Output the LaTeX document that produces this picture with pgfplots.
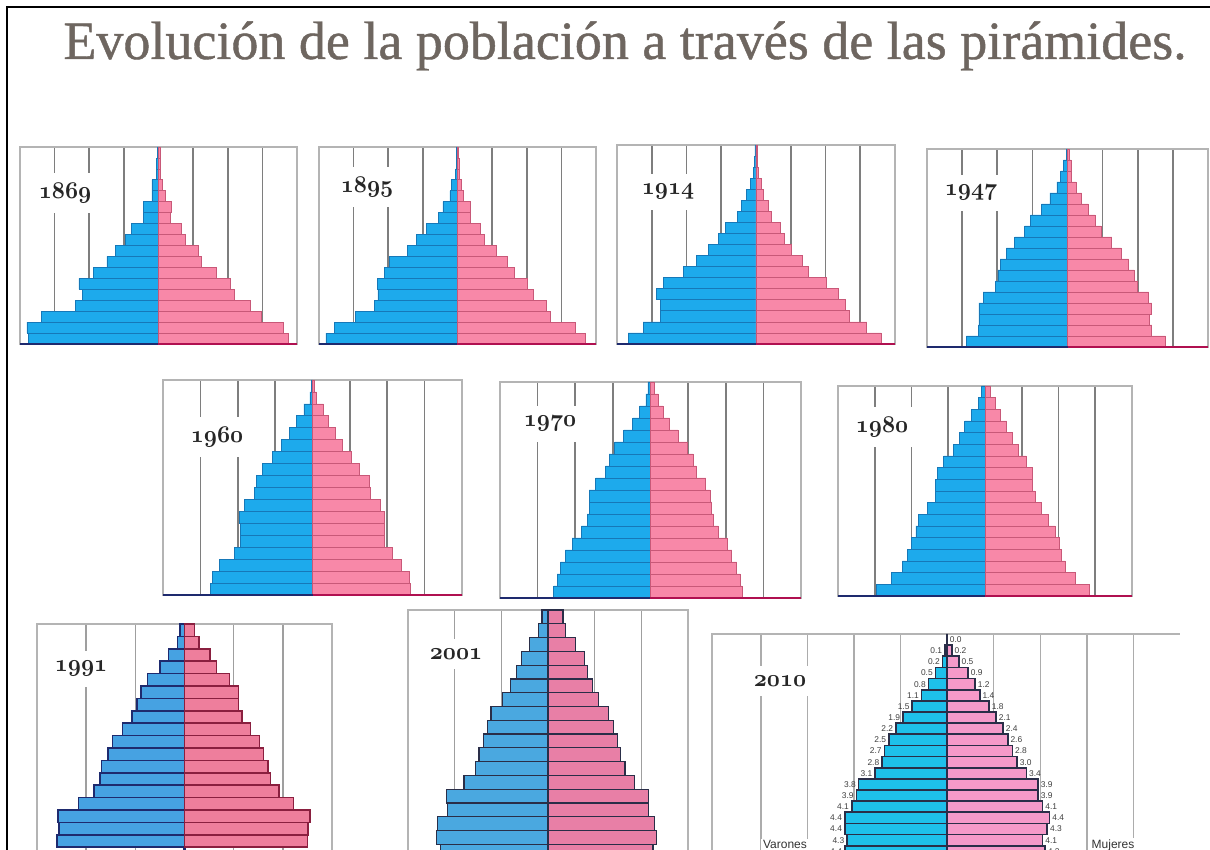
\documentclass[border=0pt]{standalone}
\usepackage{pgfplots}
\usepackage{pgfplotstable}
\pgfplotsset{compat=1.18}
\usepackage{fontspec}
\setmainfont{Liberation Serif}
\newfontfamily\lsans{Liberation Sans}
\newfontfamily\titlefont{Liberation Serif}[FakeBold=0.8]

\definecolor{tblue}{HTML}{1DAAEC}
\definecolor{tblueE}{HTML}{1678B8}
\definecolor{tpink}{HTML}{F888A8}
\definecolor{tpinkE}{HTML}{C85878}
\definecolor{gridc}{HTML}{7E7E7E}
\definecolor{boxc}{HTML}{B4B4B4}
\definecolor{cbrown}{HTML}{7A6A52}
\definecolor{navy}{HTML}{1E2A6E}
\definecolor{crim}{HTML}{B01050}
\definecolor{titlec}{HTML}{6E6660}
\definecolor{bblue}{HTML}{46A2E2}
\definecolor{bpink}{HTML}{EE7E9C}
\definecolor{bpinkE}{HTML}{8A1F3F}
\definecolor{cblue}{HTML}{4AA8E0}
\definecolor{cpink}{HTML}{E87FA6}
\definecolor{dedge}{HTML}{2A2E48}
\definecolor{dblue}{HTML}{1EC0EA}
\definecolor{dpink}{HTML}{F59AC9}

\newcommand{\yr}[1]{{\fontsize{13}{13}\usefont{OML}{cmm}{b}{it}#1}}

\pgfplotsset{
  pyr/.style={
    scale only axis, anchor=north west, clip=false,
    xbar, bar shift=0pt, bar width=1,
    xmin=-4, xmax=4, ymin=-0.5, ymax=17.5,
    axis line style={draw=boxc, line width=0.6pt},
    xtick={-3,-2,-1,1,2,3}, xticklabels={}, ytick=\empty,
    xmajorgrids, grid style={draw=gridc, line width=0.8pt},
    major tick length=0pt,
    extra x ticks={0}, extra x tick labels={},
    extra x tick style={grid style={draw=cbrown, line width=1.1pt}},
  },
  mbar/.style={fill=tblue, draw=tblueE, line width=0.35pt},
  fbar/.style={fill=tpink, draw=tpinkE, line width=0.35pt},
}

% ---------------- data (a = age group, 0 = 0-4 at bottom) ----------------
\pgfplotstableread{
a m f
0 3.75 3.75
1 3.80 3.60
2 3.38 2.98
3 2.40 2.64
4 2.20 2.20
5 2.30 2.07
6 1.87 1.68
7 1.49 1.25
8 1.25 1.15
9 0.96 0.77
10 0.77 0.67
11 0.43 0.34
12 0.43 0.36
13 0.19 0.19
14 0.19 0.12
15 0.06 0.06
16 0.05 0.05
17 0.04 0.04
}\tA
\pgfplotstableread{
a m f
0 3.80 3.69
1 3.56 3.40
2 2.96 2.68
3 2.40 2.56
4 2.30 2.19
5 2.32 2.03
6 2.10 1.64
7 1.96 1.45
8 1.45 1.13
9 1.19 0.79
10 0.90 0.67
11 0.54 0.36
12 0.42 0.36
13 0.22 0.16
14 0.17 0.12
15 0.06 0.05
16 0.04 0.04
17 0.03 0.03
}\tB
\pgfplotstableread{
a m f
0 3.68 3.60
1 3.25 3.19
2 2.74 2.68
3 2.74 2.57
4 2.87 2.38
5 2.67 2.02
6 2.10 1.51
7 1.71 1.32
8 1.38 1.03
9 1.07 0.82
10 0.89 0.69
11 0.53 0.43
12 0.43 0.36
13 0.27 0.21
14 0.17 0.16
15 0.08 0.07
16 0.05 0.04
17 0.03 0.03
}\tC
\pgfplotstableread{
a m f
0 2.88 2.79
1 2.54 2.40
2 2.52 2.33
3 2.52 2.40
4 2.40 2.31
5 2.05 2.00
6 1.98 1.90
7 1.92 1.74
8 1.74 1.52
9 1.50 1.26
10 1.22 0.95
11 1.05 0.78
12 0.74 0.59
13 0.50 0.40
14 0.30 0.24
15 0.19 0.12
16 0.12 0.10
17 0.04 0.04
}\tD
\pgfplotstableread{
a m f
0 2.73 2.63
1 2.67 2.59
2 2.50 2.38
3 2.10 2.14
4 1.92 1.93
5 1.92 1.91
6 1.96 1.91
7 1.83 1.82
8 1.56 1.55
9 1.51 1.52
10 1.33 1.26
11 1.08 1.03
12 0.84 0.81
13 0.61 0.60
14 0.43 0.42
15 0.23 0.29
16 0.07 0.11
17 0.04 0.05
}\tE
\pgfplotstableread{
a m f
0 2.57 2.43
1 2.48 2.38
2 2.39 2.29
3 2.26 2.16
4 2.08 2.03
5 1.84 1.80
6 1.68 1.67
7 1.63 1.63
8 1.63 1.58
9 1.46 1.47
10 1.19 1.22
11 1.10 1.13
12 0.95 0.98
13 0.71 0.73
14 0.47 0.51
15 0.29 0.33
16 0.12 0.20
17 0.07 0.09
}\tF
\pgfplotstableread{
a m f
0 2.95 2.85
1 2.55 2.45
2 2.25 2.18
3 2.12 2.09
4 2.00 2.03
5 1.88 1.91
6 1.82 1.73
7 1.56 1.52
8 1.36 1.36
9 1.34 1.30
10 1.30 1.30
11 1.12 1.12
12 0.85 0.91
13 0.70 0.75
14 0.55 0.59
15 0.36 0.43
16 0.18 0.27
17 0.09 0.14
}\tG
\pgfplotstableread{
a m f
0 2.59 2.50
1 2.55 2.51
2 2.57 2.55
3 2.16 2.22
4 1.84 1.92
5 1.72 1.75
6 1.69 1.70
7 1.56 1.61
8 1.46 1.53
9 1.26 1.34
10 1.07 1.17
11 0.97 1.10
12 0.88 1.10
13 0.75 0.92
14 0.50 0.65
15 0.33 0.52
16 0.14 0.29
17 0.09 0.20
}\tH
\pgfplotstableread{
a m f
0 2.31 2.25
1 2.39 2.32
2 2.36 2.29
3 2.15 2.15
4 2.17 2.16
5 1.80 1.86
6 1.56 1.65
7 1.48 1.55
8 1.39 1.49
9 1.30 1.40
10 1.22 1.30
11 0.97 1.08
12 0.80 0.95
13 0.68 0.84
14 0.57 0.79
15 0.39 0.59
16 0.20 0.38
17 0.13 0.32
}\tI
\pgfplotstableread{
a m
1 4.4
2 4.3
3 4.4
4 4.4
5 4.1
6 3.9
7 3.8
8 3.1
9 2.8
10 2.7
11 2.5
12 2.2
13 1.9
14 1.5
15 1.1
16 0.8
17 0.5
18 0.2
19 0.1
}\tJm
\pgfplotstableread{
a f
1 4.2
2 4.1
3 4.3
4 4.4
5 4.1
6 3.9
7 3.9
8 3.4
9 3.0
10 2.8
11 2.6
12 2.4
13 2.1
14 1.8
15 1.4
16 1.2
17 0.9
18 0.5
19 0.2
20 0.0
}\tJf

\begin{document}
\begin{tikzpicture}[x=0.5pt,y=0.5pt]
\useasboundingbox (0,0) rectangle (1210,850);
\clip (0,0) rectangle (1210,850);
\fill[white] (0,0) rectangle (1210,850);
\draw[black, line width=1.1pt] (7,-10) -- (7,843) -- (1230,843);

\node[anchor=base, text=titlec, font=\titlefont\fontsize{27}{27}\selectfont] at (625,791)
  {Evolución de la población a través de las pirámides.};

% ---------- row 1 ----------
\begin{axis}[pyr, at={(10pt,351.5pt)}, width=138.5pt, height=98.5pt]
\addplot[mbar] table[x expr=-\thisrow{m}, y=a] {\tA};
\addplot[fbar] table[x=f, y=a] {\tA};
\addplot[sharp plot, draw=navy, line width=1.2pt, forget plot] coordinates {(-4,-0.5) (0,-0.5)};
\addplot[sharp plot, draw=crim, line width=1.2pt, forget plot] coordinates {(0,-0.5) (4,-0.5)};
\end{axis}
\begin{axis}[pyr, at={(159.5pt,351.5pt)}, width=138.5pt, height=98.5pt]
\addplot[mbar] table[x expr=-\thisrow{m}, y=a] {\tB};
\addplot[fbar] table[x=f, y=a] {\tB};
\addplot[sharp plot, draw=navy, line width=1.2pt, forget plot] coordinates {(-4,-0.5) (0,-0.5)};
\addplot[sharp plot, draw=crim, line width=1.2pt, forget plot] coordinates {(0,-0.5) (4,-0.5)};
\end{axis}
\begin{axis}[pyr, at={(308.5pt,352.5pt)}, width=139pt, height=99.5pt]
\addplot[mbar] table[x expr=-\thisrow{m}, y=a] {\tC};
\addplot[fbar] table[x=f, y=a] {\tC};
\addplot[sharp plot, draw=navy, line width=1.2pt, forget plot] coordinates {(-4,-0.5) (0,-0.5)};
\addplot[sharp plot, draw=crim, line width=1.2pt, forget plot] coordinates {(0,-0.5) (4,-0.5)};
\end{axis}
\begin{axis}[pyr, at={(463.5pt,350.5pt)}, width=140.5pt, height=99pt,
  extra x tick style={grid style={draw=gray!70!green!60!black, line width=1.1pt}}]
\addplot[mbar] table[x expr=-\thisrow{m}, y=a] {\tD};
\addplot[fbar] table[x=f, y=a] {\tD};
\addplot[sharp plot, draw=navy, line width=1.2pt, forget plot] coordinates {(-4,-0.5) (0,-0.5)};
\addplot[sharp plot, draw=crim, line width=1.2pt, forget plot] coordinates {(0,-0.5) (4,-0.5)};
\end{axis}

% ---------- row 2 ----------
\begin{axis}[pyr, at={(81.5pt,235pt)}, width=149.5pt, height=107.5pt]
\addplot[mbar] table[x expr=-\thisrow{m}, y=a] {\tE};
\addplot[fbar] table[x=f, y=a] {\tE};
\addplot[sharp plot, draw=navy, line width=1.2pt, forget plot] coordinates {(-4,-0.5) (0,-0.5)};
\addplot[sharp plot, draw=crim, line width=1.2pt, forget plot] coordinates {(0,-0.5) (4,-0.5)};
\end{axis}
\begin{axis}[pyr, at={(250pt,234pt)}, width=150.5pt, height=108pt]
\addplot[mbar] table[x expr=-\thisrow{m}, y=a] {\tF};
\addplot[fbar] table[x=f, y=a] {\tF};
\addplot[sharp plot, draw=navy, line width=1.2pt, forget plot] coordinates {(-4,-0.5) (0,-0.5)};
\addplot[sharp plot, draw=crim, line width=1.2pt, forget plot] coordinates {(0,-0.5) (4,-0.5)};
\end{axis}
\begin{axis}[pyr, at={(419pt,232pt)}, width=147pt, height=105pt]
\addplot[mbar] table[x expr=-\thisrow{m}, y=a] {\tG};
\addplot[fbar] table[x=f, y=a] {\tG};
\addplot[sharp plot, draw=navy, line width=1.2pt, forget plot] coordinates {(-4,-0.5) (0,-0.5)};
\addplot[sharp plot, draw=crim, line width=1.2pt, forget plot] coordinates {(0,-0.5) (4,-0.5)};
\end{axis}

% ---------- row 3 ----------
\begin{axis}[pyr, at={(18.5pt,113pt)}, width=147.5pt, height=124pt,
  xmin=-3, xmax=3, ymin=-2.5, ymax=17.5, xtick={-2,-1,1,2},
  grid style={draw=gray!75, line width=0.8pt},
  extra x tick style={grid style={draw=navy, line width=1.1pt}}]
\addplot[fill=bblue, draw=navy, line width=0.75pt] table[x expr=-\thisrow{m}, y=a] {\tH};
\addplot[fill=bpink, draw=bpinkE, line width=0.75pt] table[x=f, y=a] {\tH};
\end{axis}
\begin{axis}[pyr, at={(204pt,120pt)}, width=140pt, height=131pt,
  xmin=-3, xmax=3, ymin=-1.5, ymax=17.5, xtick={-2,-1,1,2},
  grid style={draw=gray!75, line width=0.8pt},
  extra x tick style={grid style={draw=dedge, line width=1pt}}]
\addplot[fill=cblue, draw=dedge, line width=0.6pt] table[x expr=-\thisrow{m}, y=a] {\tI};
\addplot[fill=cpink, draw=dedge, line width=0.6pt] table[x=f, y=a] {\tI};
\end{axis}
\begin{axis}[pyr, at={(356pt,108pt)}, width=234pt, height=117pt,
  xmin=-10.1, xmax=10, ymin=-0.5, ymax=20.5, xtick={-8,-6,-4,-2,2,4,6,8},
  axis line style={draw=none},
  grid style={draw=gray!65, line width=0.7pt},
  extra x tick style={grid style={draw=dedge, line width=1pt}},
  nodes near coords={\pgfmathprintnumber[fixed,fixed zerofill,precision=1,assume math mode=true]{\pgfplotspointmeta}},
  every node near coord/.append style={font=\lsans\fontsize{4.2}{4.2}\selectfont, text=black!75, inner sep=1pt}]
\draw[boxc, line width=0.6pt] (rel axis cs:0,0) -- (rel axis cs:0,1) -- (rel axis cs:1,1);
\addplot[fill=dblue, draw=dedge, line width=0.8pt, point meta=explicit,
  every node near coord/.append style={anchor=east}] table[x expr=-\thisrow{m}, y=a, meta=m] {\tJm};
\addplot[fill=dpink, draw=dedge, line width=0.8pt, point meta=explicit,
  every node near coord/.append style={anchor=west}] table[x=f, y=a, meta=f] {\tJf};
\end{axis}
\node[fill=white, inner sep=1pt, anchor=base, font=\lsans\fontsize{6}{6}\selectfont, text=black!80] at (785,1) {Varones};
\node[fill=white, inner sep=1pt, anchor=base, font=\lsans\fontsize{6}{6}\selectfont, text=black!80] at (1113,1) {Mujeres};

% ---------- year labels ----------
\foreach \px/\py/\t in {65/193/1869, 367/187/1895, 668/192/1914, 971/193/1947,
                        217/437/1960, 550/424/1970, 882/427/1980,
                        81/669/1991, 456/654/2001, 780/681/2010}{
  \node[fill=white, inner xsep=3pt, inner ysep=5pt, xscale=0.95, text=black!85] at (\px,{850-\py}) {\yr{\t}};
}
\end{tikzpicture}
\end{document}
